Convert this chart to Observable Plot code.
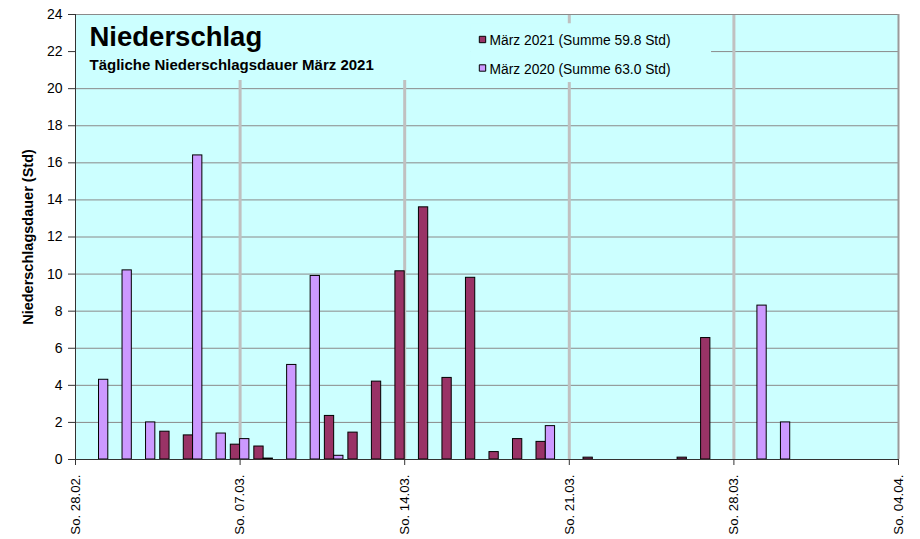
<!DOCTYPE html>
<html>
<head>
<meta charset="utf-8">
<script src="https://cdn.jsdelivr.net/npm/d3@7"></script>
<script src="https://cdn.jsdelivr.net/npm/@observablehq/plot@0.6"></script>
<style>
  html, body { margin: 0; padding: 0; background: #ffffff; }
  #chart svg { display: block; }
</style>
</head>
<body>
<div id="chart"></div>
<script>
// ---- data (day of March 1..31) ----
const days = d3.range(1, 32);
const hours2021 = [0, 0, 0, 1.5, 1.3, 0, 0.8, 0.7, 0, 0,
                   2.35, 1.45, 4.2, 10.15, 13.6, 4.4, 9.8, 0.4, 1.1, 0.95,
                   0, 0.1, 0, 0, 0, 0.1, 6.55, 0, 0, 0, 0];
const hours2020 = [4.3, 10.2, 2.0, 0, 16.4, 1.4, 1.1, 0.05, 5.1, 9.9,
                   0.2, 0, 0, 0, 0, 0, 0, 0, 0, 1.8,
                   0, 0, 0, 0, 0, 0, 0, 0, 8.3, 2.0, 0];
const seriesNames = ["März 2021 (Summe 59.8 Std)", "März 2020 (Summe 63.0 Std)"];
const seriesColors = ["#993366", "#cc99ff"];
const weekTicks = [0, 7, 14, 21, 28, 35];          // days after 28.02.
const weekLabels = ["So. 28.02.", "So. 07.03.", "So. 14.03.", "So. 21.03.", "So. 28.03.", "So. 04.04."];
const yTicks = d3.range(0, 25, 2);
const titleText = "Niederschlag";
const subtitleText = "Tägliche Niederschlagsdauer März 2021";
const yLabel = "Niederschlagsdauer (Std)";

const rows2021 = days.map((d, i) => ({day: d, v: hours2021[i]})).filter(r => r.v > 0);
const rows2020 = days.map((d, i) => ({day: d, v: hours2020[i]})).filter(r => r.v > 0);

const BG = "#ccffff";
const bw = 0.395;
const font = "'Liberation Sans', Arial, sans-serif";

const legendMarks = seriesNames.flatMap((name, i) => [
  Plot.dot([name], {frameAnchor: "top-left", dx: 407, dy: 25 + i * 28.5, symbol: "square", r: 3.6,
                    fill: seriesColors[i], stroke: "#000", strokeWidth: 1}),
  Plot.text([name], {frameAnchor: "top-left", dx: 414, dy: 30.5 + i * 28.5, text: d => d,
                     textAnchor: "start", lineAnchor: "bottom", fontSize: 13.8, fill: "#000"})
]);

const chart = Plot.plot({
  width: 920,
  height: 539,
  marginLeft: 75,
  marginRight: 22,
  marginTop: 14,
  marginBottom: 80,
  style: {fontFamily: font, color: "#000", background: "#fff"},
  x: {domain: [0, 35], axis: null},
  y: {domain: [0, 24], axis: null},
  marks: [
    Plot.frame({fill: BG, stroke: null}),
    Plot.ruleY(yTicks.filter(t => t > 0 && t < 24), {stroke: "#8a8a8a", strokeWidth: 1}),
    Plot.ruleX(weekTicks.filter(t => t > 0 && t < 35), {stroke: "#c0c0c0", strokeWidth: 3}),
    // title and legend panels hide the grid behind them
    Plot.rect([0], {x1: 0, x2: 16.8, y1: 20.44, y2: 24, fill: BG}),
    Plot.rect([0], {x1: 16.8, x2: 27.05, y1: 20.33, y2: 23.5, fill: BG}),
    Plot.rectY(rows2021, {x1: d => d.day - bw, x2: d => d.day, y: "v", fill: seriesColors[0], stroke: "#000", strokeWidth: 1}),
    Plot.rectY(rows2020, {x1: d => d.day, x2: d => d.day + bw, y: "v", fill: seriesColors[1], stroke: "#000", strokeWidth: 1}),
    Plot.frame({stroke: "#8a8a8a"}),
    Plot.ruleX([35], {stroke: "#9a9a9a", strokeWidth: 2}),
    Plot.ruleX([0], {stroke: "#333"}),
    Plot.ruleY([0], {stroke: "#333"}),
    Plot.axisY({ticks: yTicks, tickSize: 7, tickPadding: 6, fontSize: 14, label: null, stroke: "#333"}),
    Plot.axisX({ticks: weekTicks, tickFormat: d => weekLabels[weekTicks.indexOf(d)], tickRotate: -90,
                tickSize: 6, tickPadding: 9, fontSize: 13.2, label: null, stroke: "#333"}),
    Plot.text([yLabel], {frameAnchor: "left", dx: -47, rotate: -90, text: d => d, textAnchor: "middle",
                         fontSize: 14.5, fontWeight: "bold"}),
    Plot.text([titleText], {frameAnchor: "top-left", dx: 14, dy: 31, text: d => d, textAnchor: "start",
                            lineAnchor: "bottom", fontSize: 27.5, fontWeight: "bold"}),
    Plot.text([subtitleText], {frameAnchor: "top-left", dx: 14, dy: 55, text: d => d, textAnchor: "start",
                               lineAnchor: "bottom", fontSize: 15, fontWeight: "bold"}),
    ...legendMarks
  ]
});
document.getElementById("chart").appendChild(chart);
</script>
</body>
</html>
